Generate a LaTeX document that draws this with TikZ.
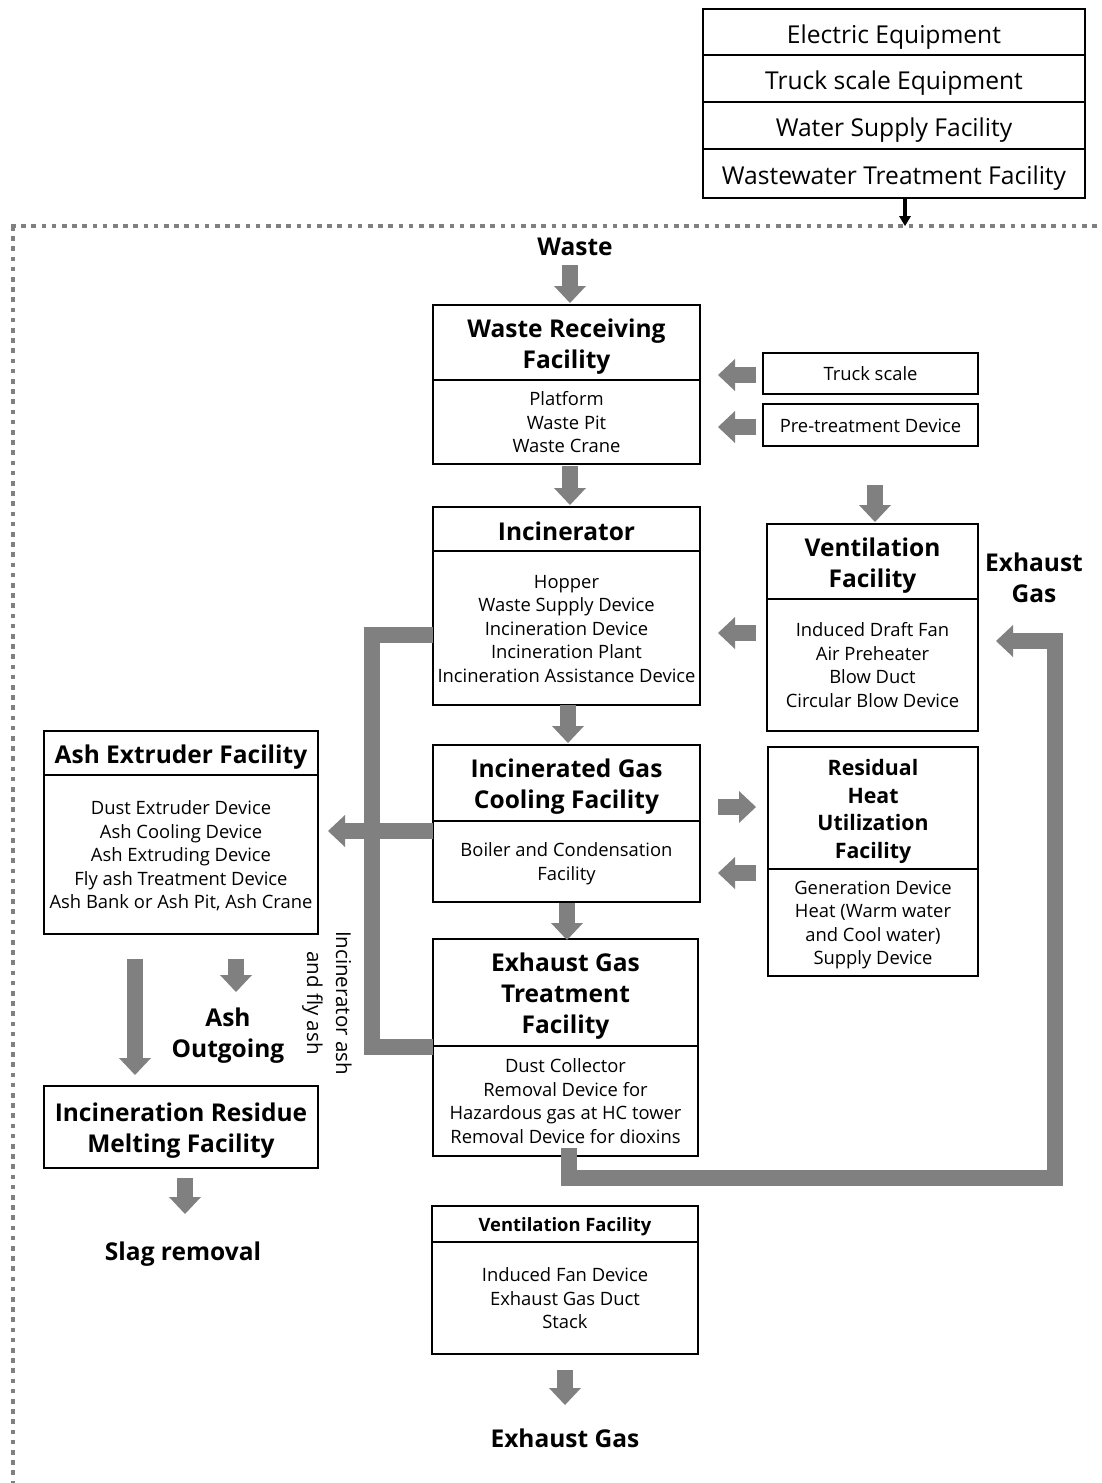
\documentclass[tikz,border=0pt]{standalone}
\usepackage{fontspec}
\setmainfont{Open Sans}
\usetikzlibrary{calc}

\definecolor{pipegray}{RGB}{128,128,128}

% font sizes (1 unit = 1pt)
\newcommand\bodyfont{\fontsize{18.4}{23.5}\selectfont}
\newcommand\topfont{\fontsize{24.6}{28}\selectfont}
\newcommand\headfont{\bfseries\fontsize{24.5}{31}\selectfont}
\newcommand\heatfont{\bfseries\fontsize{21.3}{27.7}\selectfont}
\newcommand\smallhead{\bfseries\fontsize{18.4}{22}\selectfont}
\newcommand\notefont{\fontsize{20.5}{29}\selectfont}

% centred text block with uniform line boxes, nudged down by the optional amount
\newcommand\tb[2][2.5pt]{\raisebox{-#1}[\height][\depth]{\begin{tabular}{@{}c@{}}#2\end{tabular}}}

% block arrow: colour, shaft width, head half width, head length, start, tip
\newcommand\blockarrowx[6]{%
  \coordinate (ba-s) at (#5);
  \coordinate (ba-t) at (#6);
  \coordinate (ba-b) at ($(ba-t)!#4!(ba-s)$);
  \draw[line width=#2, draw=#1] (ba-s) -- ($(ba-b)!-0.6pt!(ba-s)$);
  \fill[#1] (ba-t) -- ($(ba-b)!#3!90:(ba-t)$) -- ($(ba-b)!#3!-90:(ba-t)$) -- cycle;
}
\newcommand\blockarrow[2]{\blockarrowx{pipegray}{16pt}{16pt}{17pt}{#1}{#2}}

\tikzset{
  box/.style={draw, line width=1.5pt, inner sep=0pt, outer sep=0pt, align=center, anchor=north west},
  titlebox/.style={box, font=\headfont},
  bodybox/.style={box, font=\bodyfont},
  freetext/.style={inner sep=0pt, align=center, font=\headfont},
  pipe/.style={draw=pipegray, line width=16pt, line join=miter},
  dotline/.style={draw=pipegray, line width=4.5pt, dash pattern=on 4.5pt off 5.7pt},
}

\begin{document}
\begin{tikzpicture}[x=1pt, y=-1pt]
\useasboundingbox (0,0) rectangle (1102,1483);

% dotted plant boundary
\draw[dotline] (13,226) -- (13,1490);
\draw[dotline] (11,226) -- (1110,226);

% common utilities stack
\node[box, font=\topfont, minimum width=382pt, minimum height=46pt] (te1) at (703,9) {\tb[5.5pt]{Electric Equipment}};
\node[box, font=\topfont, minimum width=382pt, minimum height=47pt] (te2) at (te1.south west) {\tb[5.5pt]{Truck scale Equipment}};
\node[box, font=\topfont, minimum width=382pt, minimum height=47pt] (te3) at (te2.south west) {\tb[5.5pt]{Water Supply Facility}};
\node[box, font=\topfont, minimum width=382pt, minimum height=49pt] (te4) at (te3.south west) {\tb[5pt]{Wastewater Treatment Facility}};
\blockarrowx{black}{3.5pt}{6pt}{10pt}{905,199}{905,226}

% main process column
\node[freetext] (waste) at (575,247) {Waste};

\node[titlebox, minimum width=267pt, minimum height=75pt] (wrt) at (433,305) {\tb[4pt]{Waste Receiving\\Facility}};
\node[bodybox, minimum width=267pt, minimum height=84pt] (wrb) at (wrt.south west) {\tb{Platform\\Waste Pit\\Waste Crane}};

\node[titlebox, minimum width=267pt, minimum height=44pt] (inct) at (433,507) {\tb[5pt]{Incinerator}};
\node[bodybox, minimum width=267pt, minimum height=154pt] (incb) at (inct.south west) {\tb{Hopper\\Waste Supply Device\\Incineration Device\\Incineration Plant\\Incineration Assistance Device}};

\node[titlebox, minimum width=267pt, minimum height=76pt] (coolt) at (433,745) {\tb[4pt]{Incinerated Gas\\Cooling Facility}};
\node[bodybox, minimum width=267pt, minimum height=81pt] (coolb) at (coolt.south west) {\tb{Boiler and Condensation\\Facility}};

\node[titlebox, minimum width=265pt, minimum height=107pt] (egtt) at (433,939) {\tb[4pt]{Exhaust Gas\\Treatment\\Facility}};
\node[bodybox, minimum width=265pt, minimum height=110pt] (egtb) at (egtt.south west) {\tb{Dust Collector\\Removal Device for\\Hazardous gas at HC tower\\Removal Device for dioxins}};

\node[box, font=\smallhead, minimum width=266pt, minimum height=36pt] (vfst) at (432,1206) {\tb[3pt]{Ventilation Facility}};
\node[bodybox, minimum width=266pt, minimum height=112pt] (vfsb) at (vfst.south west) {\tb{Induced Fan Device\\Exhaust Gas Duct\\Stack}};
\node[freetext] (exgas) at (565,1438) {Exhaust Gas};

% right column
\node[bodybox, minimum width=215pt, minimum height=41pt] (ts) at (763,353) {\tb{Truck scale}};
\node[bodybox, minimum width=215pt, minimum height=42pt] (ptd) at (763,404) {\tb{Pre-treatment Device}};

\node[titlebox, minimum width=211pt, minimum height=75pt] (vft) at (767,524) {\tb[4pt]{Ventilation\\Facility}};
\node[bodybox, minimum width=211pt, minimum height=132pt] (vfb) at (vft.south west) {\tb{Induced Draft Fan\\Air Preheater\\Blow Duct\\Circular Blow Device}};
\node[freetext] (exhside) at (1034,578) {Exhaust\\Gas};

\node[box, font=\heatfont, minimum width=210pt, minimum height=122pt] (rht) at (768,747) {\tb[3.5pt]{Residual\\Heat\\Utilization\\Facility}};
\node[bodybox, minimum width=210pt, minimum height=107pt] (rhb) at (rht.south west) {\tb{Generation Device\\Heat (Warm water\\and Cool water)\\Supply Device}};

% left column
\node[titlebox, minimum width=274pt, minimum height=44pt] (asht) at (44,731) {\tb[4pt]{Ash Extruder Facility}};
\node[bodybox, minimum width=274pt, minimum height=159pt] (ashb) at (asht.south west) {\tb{Dust Extruder Device\\Ash Cooling Device\\Ash Extruding Device\\Fly ash Treatment Device\\Ash Bank or Ash Pit, Ash Crane}};
\node[freetext] (ashout) at (228,1036) {Ash\\Outgoing};
\node[titlebox, minimum width=274pt, minimum height=82pt] (melt) at (44,1086) {\tb[4pt]{Incineration Residue\\Melting Facility}};
\node[freetext] (slag) at (183,1254) {Slag removal};
\node[inner sep=0pt, align=center, font=\notefont, rotate=-90] (ashnote) at (327,1003) {Incinerator ash\\and fly ash};

% ash collection line
\draw[pipe] (inct.south west |- 0,635) -- (372,635) -- (372,1047) -- (egtt.south west |- 0,1047);
% exhaust gas return line
\draw[pipe, line cap=rect] (egtb.south -| 569,0) -- (569,1178) -- (1055,1178) -- (1055,641);
\blockarrow{1055,641}{996,641}

% flow arrows
\blockarrow{570,265}{570,303}
\blockarrow{570,466}{570,505}
\blockarrow{875,485}{875,522}
\blockarrow{756,375}{718,375}
\blockarrow{756,427}{718,427}
\blockarrow{756,633}{718,633}
\blockarrow{incb.south -| 568,0}{568,743}
\blockarrow{718,807}{756,807}
\blockarrow{756,873}{718,873}
\blockarrow{567,903}{567,940}
\blockarrow{coolb.west |- 0,831}{328,831}
\blockarrow{135,959}{135,1075}
\blockarrow{236,959}{236,992}
\blockarrow{185,1178}{185,1214}
\blockarrow{565,1370}{565,1405}
\end{tikzpicture}
\end{document}
